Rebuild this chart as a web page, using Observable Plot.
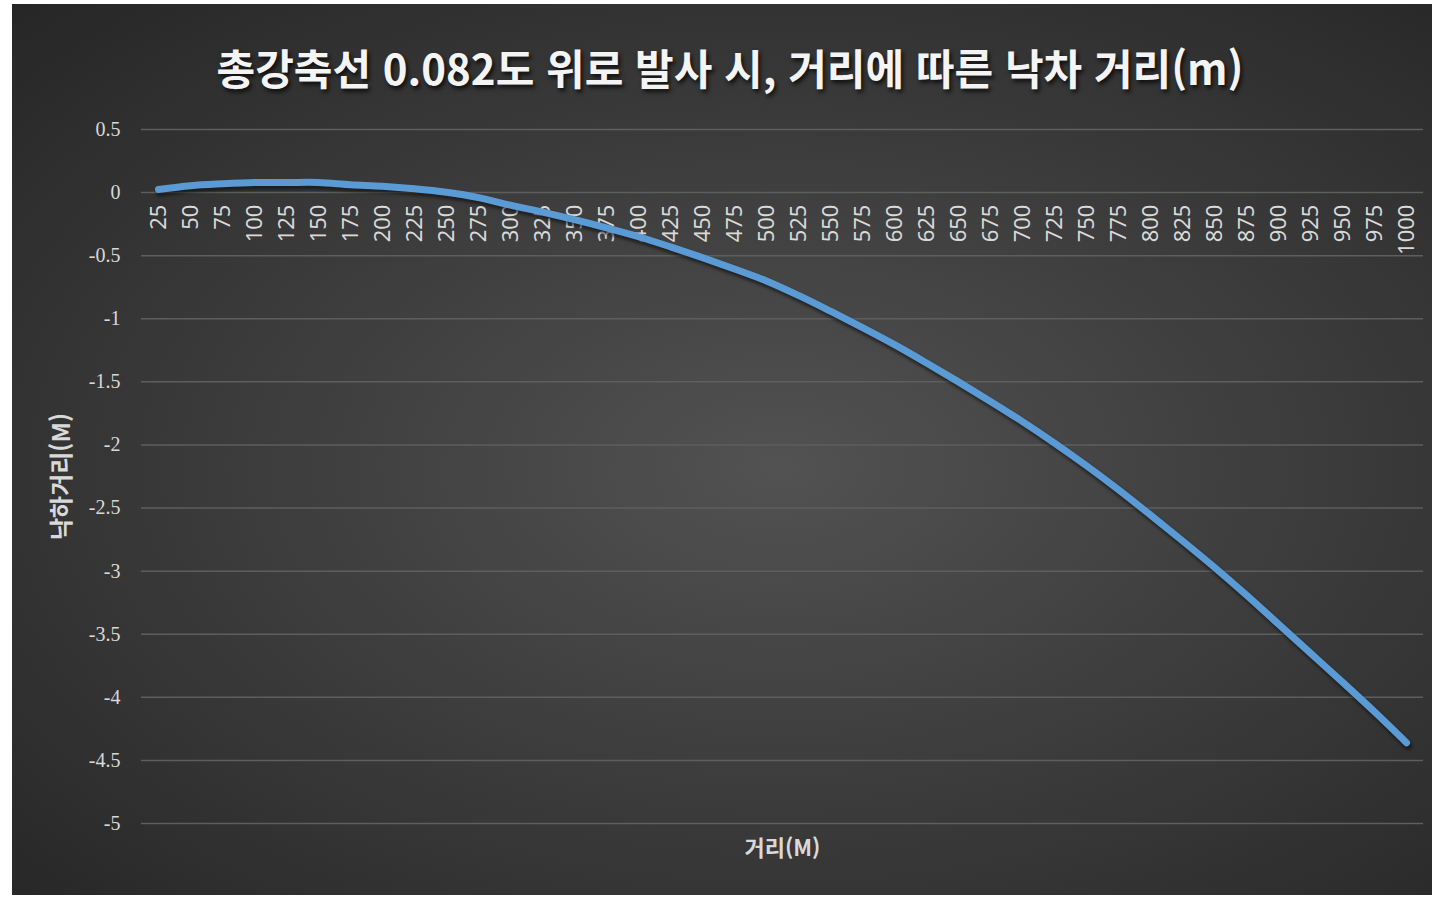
<!DOCTYPE html>
<html lang="ko">
<head>
<meta charset="utf-8">
<script src="https://cdn.jsdelivr.net/npm/d3@7"></script>
<script src="https://cdn.jsdelivr.net/npm/@observablehq/plot@0.6"></script>
<style>
  html, body { margin: 0; padding: 0; background: #ffffff; }
  #chart {
    position: absolute; left: 12px; top: 4px; width: 1420px; height: 891px;
    background: radial-gradient(ellipse farthest-corner at 54% 52%, #525252 0%, #404040 40%, #262626 100%);
    overflow: hidden;
  }
  #title {
    position: absolute; top: 38px; left: 0; width: 1436px; text-align: center;
    font-family: "Noto Sans CJK KR", "Noto Sans", sans-serif; font-weight: 700;
    font-size: 42px; color: #f4f4f4; line-height: 1.2;
    text-shadow: 2px 3px 4px rgba(0,0,0,0.75);
  }
  #plot { position: absolute; left: 0; top: 0; }
</style>
</head>
<body>
<div id="chart">
  <div id="plot"></div>
  <div id="title">총강축선 0.082도 위로 발사 시, 거리에 따른 낙차 거리(m)</div>
</div>
<script>
// Distance categories (m)
const distances = [25, 50, 75, 100, 125, 150, 175, 200, 225, 250, 275, 300, 325, 350, 375, 400,
  425, 450, 475, 500, 525, 550, 575, 600, 625, 650, 675, 700, 725, 750, 775, 800, 825, 850,
  875, 900, 925, 950, 975, 1000];

// Drop at each distance (m), relative to the bore axis
const drops = [0.024, 0.055, 0.07, 0.08, 0.08, 0.08, 0.062, 0.05, 0.03, 0.002, -0.04, -0.10, -0.155,
  -0.215, -0.28, -0.35, -0.43, -0.515, -0.605, -0.70, -0.815, -0.94, -1.07, -1.205, -1.35, -1.50,
  -1.655, -1.815, -1.985, -2.165, -2.355, -2.555, -2.76, -2.97, -3.19, -3.42, -3.65, -3.88, -4.115, -4.36];

// Value axis ticks
const yTicks = [0.5, 0, -0.5, -1, -1.5, -2, -2.5, -3, -3.5, -4, -4.5, -5];

const yTitle = "낙하거리(M)";
const xTitle = "거리(M)";

const rows = distances.map((d, i) => ({d: String(d), v: drops[i]}));
const cats = distances.map(String);

const labelColor = "#d9d9d9";

const plot = Plot.plot({
  width: 1420,
  height: 891,
  marginLeft: 129,
  marginRight: 9,
  marginTop: 125,
  marginBottom: 72,
  style: {background: "transparent", overflow: "visible"},
  x: {type: "point", domain: cats, padding: 0.5, axis: null},
  y: {domain: [-5, 0.5], axis: null},
  marks: [
    // horizontal gridlines
    Plot.ruleY(yTicks, {stroke: "#5e5e5e", strokeWidth: 1.5}),
    // value axis labels
    Plot.text(yTicks, {
      y: d => d, frameAnchor: "left", dx: -21, textAnchor: "end",
      text: d => String(d), fill: labelColor, fontSize: 20,
      fontFamily: "Liberation Serif, serif"
    }),
    // category labels, hanging below the zero line
    Plot.text(cats, {
      x: d => d, y: () => 0, rotate: -90, textAnchor: "end", dy: 12,
      text: d => d, fill: labelColor, fontSize: 22,
      fontFamily: "Noto Sans, Open Sans, sans-serif"
    }),
    // axis titles
    Plot.text([yTitle], {
      frameAnchor: "left", textAnchor: "middle", rotate: -90, dx: -79, text: d => d,
      fill: labelColor, fontSize: 24, fontWeight: "bold",
      fontFamily: "Noto Sans CJK KR, sans-serif"
    }),
    Plot.text([xTitle], {
      frameAnchor: "bottom", textAnchor: "middle", dy: 32, text: d => d,
      fill: labelColor, fontSize: 22, fontWeight: "bold",
      fontFamily: "Noto Sans CJK KR, sans-serif"
    }),
    // soft shadow under the series
    Plot.line(rows, {
      x: "d", y: "v", curve: "catmull-rom", stroke: "#0d0d0d", strokeOpacity: 0.6,
      strokeWidth: 8, dx: 1.5, dy: 3, strokeLinecap: "round", strokeLinejoin: "round"
    }),
    // drop curve
    Plot.line(rows, {
      x: "d", y: "v", curve: "catmull-rom", stroke: "#5b9bd5",
      strokeWidth: 7, strokeLinecap: "round", strokeLinejoin: "round"
    })
  ]
});

const lines = plot.querySelectorAll('g[aria-label="line"]');
if (lines.length) lines[0].style.filter = "blur(1.5px)";

document.getElementById("plot").appendChild(plot);
</script>
</body>
</html>
